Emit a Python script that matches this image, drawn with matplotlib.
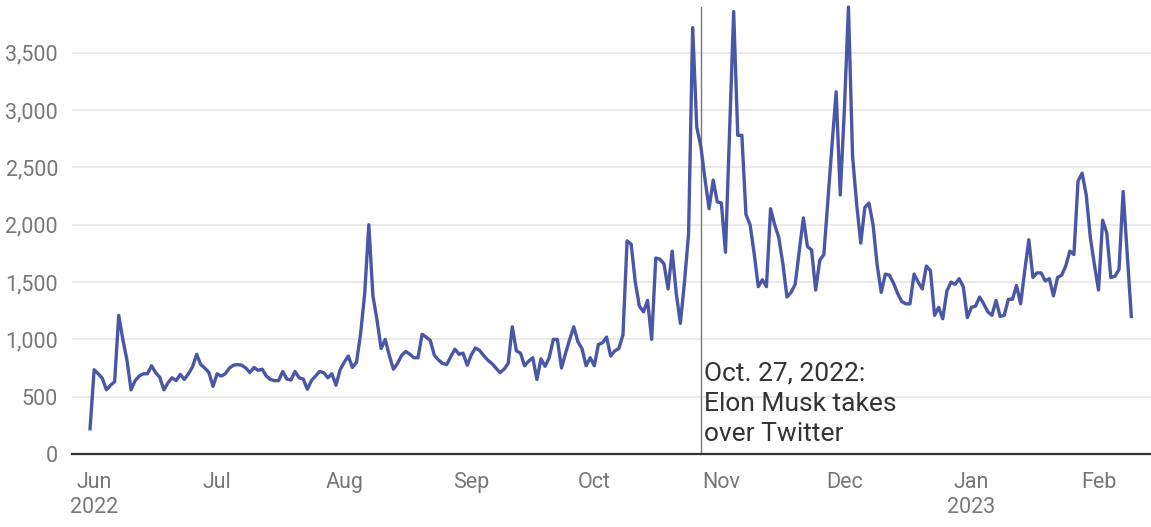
import numpy as np
import pandas as pd
import matplotlib
matplotlib.use("Agg")
import matplotlib.pyplot as plt
import matplotlib.dates as mdates

plt.rcParams['font.family'] = ['Roboto', 'DejaVu Sans']

# daily counts, 31 May 2022 -> 8 Feb 2023
counts = [
    220, 735, 700, 660, 560, 600, 630, 1210, 1000, 820,
    560, 640, 680, 700, 700, 770, 710, 670, 560, 620,
    665, 640, 695, 650, 700, 760, 870, 780, 750, 710,
    590, 700, 680, 700, 750, 775, 780, 775, 750, 710,
    755, 730, 740,
    680, 650, 640, 640, 720, 655, 645, 720, 665, 655,
    565, 640, 680, 720, 710, 665, 700, 600, 735, 800,
    855, 755, 800, 1050, 1400, 2000, 1380, 1170, 920, 1000,
    860, 740, 790, 860, 895, 870, 840, 840, 1045, 1020,
    990, 860, 820,
    790, 780, 850, 915, 870, 880, 775, 865, 925, 905,
    860, 820, 790, 750, 710, 740, 790, 1110, 900, 880,
    770, 810, 840, 650, 830, 765, 840, 1000, 1000, 750,
    880, 1000, 1110, 980, 920, 770, 840, 770, 955, 970,
    1020, 855, 900,
    920, 1040, 1860, 1830, 1500, 1290, 1240, 1340, 1000, 1710,
    1700, 1660, 1440, 1770, 1400, 1140, 1500, 1920, 3720, 2850,
    2680, 2400, 2140, 2390, 2200, 2190, 1760, 2800, 3860, 2780,
    2780, 2090, 2000, 1750, 1460, 1520, 1460, 2140, 2000, 1890,
    1660, 1370,
    1410, 1480, 1770, 2060, 1810, 1780, 1430, 1690, 1740, 2220,
    2700, 3160, 2260, 3000, 3900, 2600, 2180, 1840, 2150, 2190,
    2000, 1650, 1410, 1570, 1560, 1490, 1400, 1330, 1310, 1310,
    1570, 1500, 1440, 1640, 1600, 1210, 1280, 1180, 1420, 1500,
    1480, 1530, 1460,
    1190, 1280, 1290, 1370, 1310, 1240, 1210, 1340, 1200, 1210,
    1350, 1350, 1470, 1310, 1600, 1870, 1540, 1580, 1580, 1510,
    1530, 1380, 1540, 1560, 1640, 1770, 1740, 2380, 2450, 2260,
    1890, 1650, 1430, 2040, 1930, 1540, 1550, 1610, 2290, 1750,
    1200,
]
dates = pd.date_range('2022-05-31', periods=len(counts), freq='D')

month_starts = pd.to_datetime(['2022-06-01', '2022-07-01', '2022-08-01', '2022-09-01',
                               '2022-10-01', '2022-11-01', '2022-12-01', '2023-01-01',
                               '2023-02-01'])
month_labels = ['Jun\n2022', 'Jul', 'Aug', 'Sep', 'Oct', 'Nov', 'Dec', 'Jan\n2023', 'Feb']
y_ticks = [0, 500, 1000, 1500, 2000, 2500, 3000, 3500]

event_date = pd.Timestamp('2022-10-27')
event_text = 'Oct. 27, 2022:\nElon Musk takes\nover Twitter'

W, H = 1151, 527
fig = plt.figure(figsize=(W / 100, H / 100), dpi=100)
ax = fig.add_axes([72 / W, 1 - 454 / H, 1 - 72 / W, (454 - 7) / H])

ax.plot(dates, counts, color='#4a56a6', lw=2.4, solid_joinstyle='round', clip_on=False, zorder=3)

ax.set_ylim(0, 3900)
x0 = pd.Timestamp('2022-06-01')
ax.set_xlim(x0 - pd.Timedelta(days=5.4), x0 + pd.Timedelta(days=257.8))

ax.set_yticks(y_ticks)
ax.set_yticklabels([f'{v:,}' for v in y_ticks])
ax.grid(axis='y', color='#e4e4e4', lw=1.1)
ax.set_axisbelow(True)

ax.set_xticks(month_starts)
ax.set_xticklabels(month_labels, linespacing=1.25)
ax.tick_params(axis='both', length=0, labelcolor='#777777', labelsize=15.5)
ax.tick_params(axis='x', pad=13)
ax.tick_params(axis='y', pad=10)

for s in ['top', 'right', 'left']:
    ax.spines[s].set_visible(False)
ax.spines['bottom'].set_color('#333333')
ax.spines['bottom'].set_linewidth(1.6)

# event marker
ax.axvline(event_date, ymin=0, ymax=1, color='#777777', lw=1, zorder=2)
ax.text(event_date + pd.Timedelta(days=0.8), 805, event_text, fontsize=19,
        color='#333333', va='top', ha='left', linespacing=1.33)

fig.savefig('out.png', dpi=100)
